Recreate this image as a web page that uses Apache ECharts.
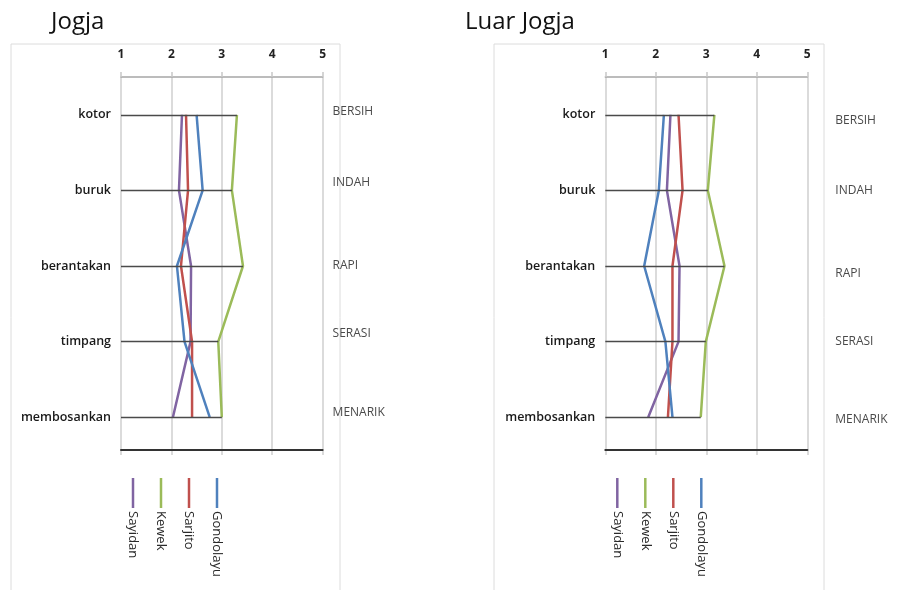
<!DOCTYPE html>
<html>
<head>
<meta charset="utf-8">
<script src="https://cdn.jsdelivr.net/npm/echarts@6/dist/echarts.min.js"></script>
<style>
  html, body { margin: 0; padding: 0; background: #fff; }
  #chart { width: 902px; height: 590px; }
</style>
</head>
<body>
<div id="chart"></div>
<script>
// Semantic differential profiles: mean score (1-5) per attribute pair
const categories = ['kotor', 'buruk', 'berantakan', 'timpang', 'membosankan'];
const opposites = ['BERSIH', 'INDAH', 'RAPI', 'SERASI', 'MENARIK'];
const panelTitles = ['Jogja', 'Luar Jogja'];
const seriesNames = ['Sayidan', 'Kewek', 'Sarjito', 'Gondolayu'];
const seriesColors = ['#8064A2', '#9BBB59', '#C0504D', '#4F81BD'];
const scaleMin = 1;
const scaleMax = 5;

// Jogja
const jogjaSayidan   = [2.21, 2.15, 2.39, 2.38, 2.03];
const jogjaKewek     = [3.30, 3.20, 3.42, 2.93, 3.00];
const jogjaSarjito   = [2.29, 2.33, 2.19, 2.41, 2.41];
const jogjaGondolayu = [2.50, 2.62, 2.11, 2.26, 2.76];

// Luar Jogja
const luarSayidan   = [2.29, 2.22, 2.47, 2.45, 1.85];
const luarKewek     = [3.16, 3.03, 3.36, 2.99, 2.89];
const luarSarjito   = [2.45, 2.53, 2.33, 2.33, 2.24];
const luarGondolayu = [2.16, 2.06, 1.77, 2.19, 2.33];

const panelData = [
  [jogjaSayidan, jogjaKewek, jogjaSarjito, jogjaGondolayu],
  [luarSayidan, luarKewek, luarSarjito, luarGondolayu]
];

// layout
const panels = [
  { gridLeft: 121, gridWidth: 201.6, titleLeft: 46, frameX: 11, frameW: 329, rightMargin: 10,
    labelShift: [-3, -8, 0, -8, -5] },
  { gridLeft: 605.3, gridWidth: 202, titleLeft: 460, frameX: 494, frameW: 330, rightMargin: 28,
    labelShift: [6, 0, 8, 0, 2] }
];
const gridTop = 77;
const gridHeight = 378;
const FONT = '"Open Sans", "Noto Sans", sans-serif';

const option = {
  animation: false,
  backgroundColor: '#fff',
  title: panels.map((p, i) => ({
    text: panelTitles[i],
    left: p.titleLeft,
    top: 5,
    textStyle: { fontFamily: FONT, fontSize: 24, fontWeight: 'normal', color: '#111' }
  })),
  grid: panels.map(p => ({ left: p.gridLeft, top: gridTop, width: p.gridWidth, height: gridHeight })),
  xAxis: [],
  yAxis: [],
  series: [],
  graphic: []
};

panels.forEach((p, i) => {
  // score scale on top
  option.xAxis.push({
    type: 'value', gridIndex: i, position: 'top',
    min: scaleMin, max: scaleMax, interval: 1,
    axisLine: { show: true, lineStyle: { color: '#a6a6a6', width: 1.5 } },
    axisTick: { show: true, length: 5, lineStyle: { color: '#c8c8c8', width: 1.5 } },
    splitLine: { show: true, lineStyle: { color: '#cfcfcf', width: 1.5 } },
    axisLabel: { margin: 16, fontFamily: FONT, fontSize: 12, fontWeight: 'bold', color: '#222' }
  });
  // dark baseline near the bottom
  option.xAxis.push({
    type: 'value', gridIndex: i, position: 'bottom', offset: -5,
    min: scaleMin, max: scaleMax,
    axisLine: { show: true, lineStyle: { color: '#333', width: 2 } },
    axisTick: { show: false }, axisLabel: { show: false }, splitLine: { show: false }
  });
  // negative pole on the left
  option.yAxis.push({
    type: 'category', gridIndex: i, inverse: true, data: categories,
    axisLine: { show: false }, axisTick: { show: false }, splitLine: { show: false },
    axisLabel: { margin: 10, fontFamily: FONT, fontSize: 12.5, fontWeight: 600, color: '#1a1a1a' }
  });
  // positive pole on the right, each label nudged vertically
  const rich = {};
  p.labelShift.forEach((d, k) => {
    rich['s' + k] = {
      fontFamily: FONT, fontSize: 12, color: '#4a4a4a',
      padding: d >= 0 ? [2 * d, 0, 0, 0] : [0, 0, -2 * d, 0]
    };
  });
  option.yAxis.push({
    type: 'category', gridIndex: i, inverse: true, position: 'right',
    data: opposites,
    axisLine: { show: false }, axisTick: { show: false }, splitLine: { show: false },
    axisLabel: {
      margin: p.rightMargin, fontFamily: FONT, fontSize: 12, color: '#4a4a4a',
      formatter: (value, index) => '{s' + index + '|' + value + '}',
      rich
    }
  });

  const xTop = i * 2;
  const yLeft = i * 2;
  const values = panelData[i];

  // row guide lines from the scale start to the highest score in each row
  const rowMax = categories.map((c, k) => Math.max(...values.map(v => v[k])));
  option.series.push({
    type: 'line', xAxisIndex: xTop, yAxisIndex: yLeft, data: [], z: 1, silent: true,
    markLine: {
      silent: true, symbol: 'none', label: { show: false },
      lineStyle: { color: '#4a4a4a', width: 1.3, type: 'solid' },
      emphasis: { disabled: true },
      data: categories.map((c, k) => [
        { coord: [scaleMin, c] },
        { coord: [rowMax[k], c] }
      ])
    }
  });

  seriesNames.forEach((name, s) => {
    option.series.push({
      name, type: 'line', xAxisIndex: xTop, yAxisIndex: yLeft, z: 3,
      data: values[s].map((v, k) => [v, categories[k]]),
      symbol: 'none', smooth: false,
      lineStyle: { color: seriesColors[s], width: 2.5 },
      itemStyle: { color: seriesColors[s] }
    });
  });

  // panel frame
  option.graphic.push({
    type: 'rect', silent: true, z: -1,
    shape: { x: p.frameX, y: 44, width: p.frameW, height: 600 },
    style: { fill: 'none', stroke: '#dcdcdc', lineWidth: 1 }
  });

  // legend with upright swatches and rotated names
  seriesNames.forEach((name, s) => {
    const lx = p.gridLeft + 12 + s * 28;
    option.graphic.push({
      type: 'line', silent: true,
      shape: { x1: lx, y1: 478, x2: lx, y2: 508 },
      style: { stroke: seriesColors[s], lineWidth: 2.5 }
    });
    option.graphic.push({
      type: 'text', silent: true, x: lx, y: 511, rotation: -Math.PI / 2,
      style: {
        text: name, fill: '#2a2a2a', font: '13px ' + FONT,
        textAlign: 'left', textVerticalAlign: 'middle', verticalAlign: 'middle'
      }
    });
  });
});

const chart = echarts.init(document.getElementById('chart'), null, { renderer: 'canvas' });
chart.setOption(option);
</script>
</body>
</html>
